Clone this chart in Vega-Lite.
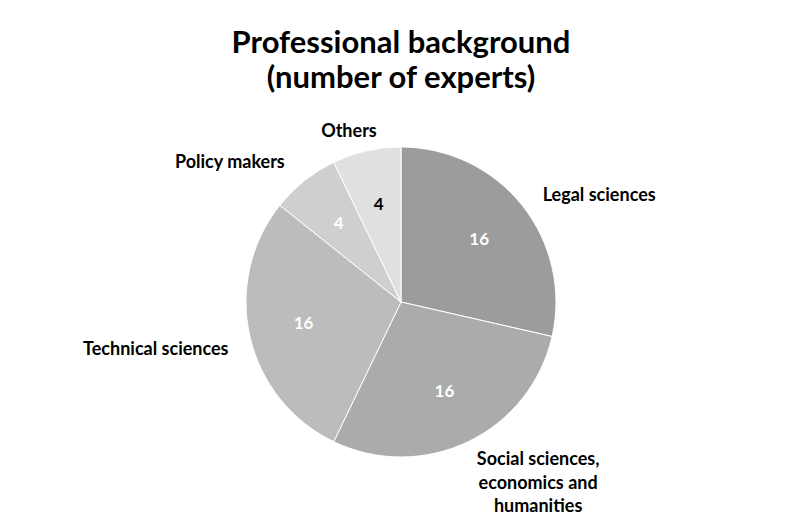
{
  "$schema": "https://vega.github.io/schema/vega-lite/v6.json",
  "width": 784,
  "height": 424,
  "autosize": {"type": "none"},
  "padding": {"left": 9, "top": 90, "right": 0, "bottom": 0},
  "background": "white",
  "config": {"view": {"stroke": null}, "font": "Lato"},
  "title": {
    "text": ["Professional background", "(number of experts)"],
    "font": "Lato",
    "fontSize": 31,
    "fontWeight": "bold",
    "color": "#000000",
    "lineHeight": 35,
    "anchor": "middle",
    "offset": -38
  },
  "data": {
    "values": [
      {"category": "Legal sciences", "value": 16},
      {"category": "Social sciences, economics and humanities", "value": 16},
      {"category": "Technical sciences", "value": 16},
      {"category": "Policy makers", "value": 4},
      {"category": "Others", "value": 4}
    ]
  },
  "transform": [{"window": [{"op": "row_number", "as": "i"}]}],
  "encoding": {
    "theta": {"field": "value", "type": "quantitative", "stack": true},
    "order": {"field": "i", "type": "quantitative"}
  },
  "layer": [
    {
      "mark": {"type": "arc", "outerRadius": 155, "stroke": "white", "strokeWidth": 1},
      "encoding": {
        "color": {
          "field": "category",
          "type": "nominal",
          "sort": null,
          "scale": {
            "domain": ["Legal sciences", "Social sciences, economics and humanities", "Technical sciences", "Policy makers", "Others"],
            "range": ["#9c9c9c", "#ababab", "#bcbcbc", "#cfcfcf", "#e0e0e0"]
          },
          "legend": null
        }
      }
    },
    {
      "mark": {"type": "text", "radius": 100, "fontSize": 17, "fontWeight": "bold", "font": "Lato"},
      "encoding": {
        "text": {"field": "value", "type": "quantitative"},
        "color": {"condition": {"test": "datum.category === 'Others'", "value": "#000000"}, "value": "#ffffff"}
      }
    },
    {
      "mark": {"type": "text", "radius": 180, "align": "left", "baseline": "middle", "dx": 1, "dy": 6, "fontSize": 18, "fontWeight": "bold", "color": "#000000"},
      "encoding": {
        "text": {"condition": {"test": "datum.category === 'Legal sciences'", "field": "category"}, "value": ""}
      }
    },
    {
      "mark": {"type": "text", "radius": 210, "align": "center", "baseline": "middle", "dx": 46, "dy": -31, "lineHeight": 23.5, "fontSize": 18, "fontWeight": "bold", "color": "#000000"},
      "encoding": {
        "text": {"condition": {"test": "datum.category === 'Social sciences, economics and humanities'", "value": ["Social sciences,", "economics and", "humanities"]}, "value": ""}
      }
    },
    {
      "mark": {"type": "text", "radius": 180, "align": "right", "baseline": "middle", "dx": 3, "dy": 8, "fontSize": 18, "fontWeight": "bold", "color": "#000000"},
      "encoding": {
        "text": {"condition": {"test": "datum.category === 'Technical sciences'", "field": "category"}, "value": ""}
      }
    },
    {
      "mark": {"type": "text", "radius": 180, "align": "right", "baseline": "middle", "dx": -4, "dy": 2, "fontSize": 18, "fontWeight": "bold", "color": "#000000"},
      "encoding": {
        "text": {"condition": {"test": "datum.category === 'Policy makers'", "field": "category"}, "value": ""}
      }
    },
    {
      "mark": {"type": "text", "radius": 180, "align": "center", "baseline": "middle", "dx": -12, "dy": 5, "fontSize": 18, "fontWeight": "bold", "color": "#000000"},
      "encoding": {
        "text": {"condition": {"test": "datum.category === 'Others'", "field": "category"}, "value": ""}
      }
    }
  ]
}
